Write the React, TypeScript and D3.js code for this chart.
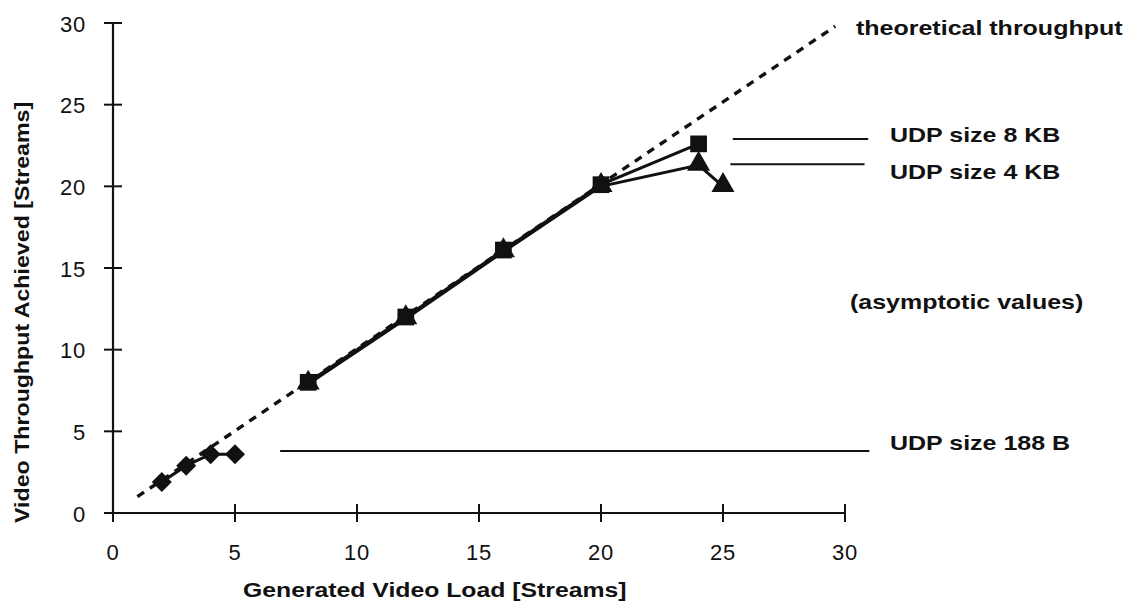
import React from 'react'
import * as d3 from 'd3'

// values
const xTicks = [0, 5, 10, 15, 20, 25, 30]
const yTicks = [0, 5, 10, 15, 20, 25, 30]

const theoLoad = [1, 29.6]
const theoThroughput = [1, 29.8]

const udp188Load = [2, 3, 4, 5]
const udp188Value = [1.9, 2.9, 3.6, 3.6]

const udp8kLoad = [8, 12, 16, 20, 24]
const udp8kValue = [8.0, 12.0, 16.1, 20.1, 22.6]

const udp4kLoad = [8, 12, 16, 20, 24, 25]
const udp4kValue = [7.9, 11.9, 16.0, 20.0, 21.3, 20.0]

const W = 1130
const H = 610
const FONT = '"Liberation Sans", Arial, Helvetica, sans-serif'
// the scanned Helvetica is wider than Liberation Sans
const WIDEN = 1.19

const x = d3.scaleLinear().domain([0, 30]).range([113, 845])
const y = d3.scaleLinear().domain([0, 30]).range([513, 23])

const line = d3
  .line<[number, number]>()
  .x((d) => x(d[0]))
  .y((d) => y(d[1]))

const zip = (a: number[], b: number[]): [number, number][] =>
  a.map((v, i) => [v, b[i]])

// diamond = square turned 45deg, wider than d3's symbolDiamond
const diamond = d3.symbol(d3.symbolSquare, 200)()
const square = d3.symbol(d3.symbolSquare, 280)()
const triangle = d3.symbol(d3.symbolTriangle, 230)()

const Label = ({ x0, y0, children }: { x0: number; y0: number; children: string }) => (
  <text transform={`translate(${x0},${y0}) scale(${WIDEN},1)`} dy="0.35em">
    {children}
  </text>
)

const App = () => {
  const tick = 9
  return (
    <svg
      width={W}
      height={H}
      style={{ position: 'absolute', left: 0, top: 0, background: '#fff' }}
      fontFamily={FONT}
    >
      {/* axes */}
      <line x1={x(0)} x2={x(0)} y1={y(30)} y2={y(0)} stroke="#111" strokeWidth={2.2} />
      <line x1={x(0)} x2={x(30)} y1={y(0)} y2={y(0)} stroke="#111" strokeWidth={2.2} />
      {yTicks.map((t) => (
        <g key={'y' + t}>
          <line x1={x(0) - tick} x2={x(0) + tick} y1={y(t)} y2={y(t)} stroke="#111" strokeWidth={2} />
          <text x={86} y={y(t) + 1} dy="0.35em" textAnchor="end" fontSize={22} letterSpacing={0.8} fill="#111">
            {t}
          </text>
        </g>
      ))}
      {xTicks.map((t) => (
        <g key={'x' + t}>
          <line x1={x(t)} x2={x(t)} y1={y(0) - tick} y2={y(0) + tick} stroke="#111" strokeWidth={2} />
          <text x={x(t)} y={552} dy="0.35em" textAnchor="middle" fontSize={22} letterSpacing={0.8} fill="#111">
            {t}
          </text>
        </g>
      ))}

      {/* axis titles */}
      <text
        transform={`translate(243,597) scale(1.18,1)`}
        fontSize={21}
        fontWeight="bold"
        fill="#111"
      >
        Generated Video Load [Streams]
      </text>
      <text
        transform={`translate(29,523) rotate(-90) scale(1.16,1)`}
        fontSize={20}
        fontWeight="bold"
        fill="#111"
      >
        Video Throughput Achieved [Streams]
      </text>

      {/* theoretical throughput */}
      <path
        d={line(zip(theoLoad, theoThroughput)) || ''}
        fill="none"
        stroke="#111"
        strokeWidth={3.4}
        strokeDasharray="8,7"
      />

      {/* series lines */}
      <path d={line(zip(udp188Load, udp188Value)) || ''} fill="none" stroke="#111" strokeWidth={3} />
      <path d={line(zip(udp4kLoad, udp4kValue)) || ''} fill="none" stroke="#111" strokeWidth={3} />
      <path d={line(zip(udp8kLoad, udp8kValue)) || ''} fill="none" stroke="#111" strokeWidth={3} />

      {/* markers */}
      {zip(udp188Load, udp188Value).map(([a, b], i) => (
        <path
          key={'d' + i}
          d={diamond || ''}
          transform={`translate(${x(a)},${y(b)}) rotate(45)`}
          fill="#111"
        />
      ))}
      {zip(udp4kLoad, udp4kValue).map(([a, b], i) => (
        <path key={'t' + i} d={triangle || ''} transform={`translate(${x(a)},${y(b) - 1})`} fill="#111" />
      ))}
      {zip(udp8kLoad, udp8kValue).map(([a, b], i) => (
        <path key={'s' + i} d={square || ''} transform={`translate(${x(a)},${y(b)})`} fill="#111" />
      ))}

      {/* annotation lines */}
      <line x1={x(6.85)} x2={x(31)} y1={y(3.8)} y2={y(3.8)} stroke="#111" strokeWidth={2} />
      <line x1={x(25.4)} x2={x(30.95)} y1={y(22.9)} y2={y(22.9)} stroke="#111" strokeWidth={2} />
      <line x1={x(25.3)} x2={x(30.8)} y1={y(21.35)} y2={y(21.35)} stroke="#111" strokeWidth={2} />

      {/* labels */}
      <g fontSize={21} fontWeight="bold" fill="#111">
        <Label x0={856} y0={28}>theoretical throughput</Label>
        <Label x0={890} y0={135}>UDP size 8 KB</Label>
        <Label x0={890} y0={172}>UDP size 4 KB</Label>
        <Label x0={850} y0={302}>(asymptotic values)</Label>
        <Label x0={890} y0={443}>UDP size 188 B</Label>
      </g>
    </svg>
  )
}

export default App
